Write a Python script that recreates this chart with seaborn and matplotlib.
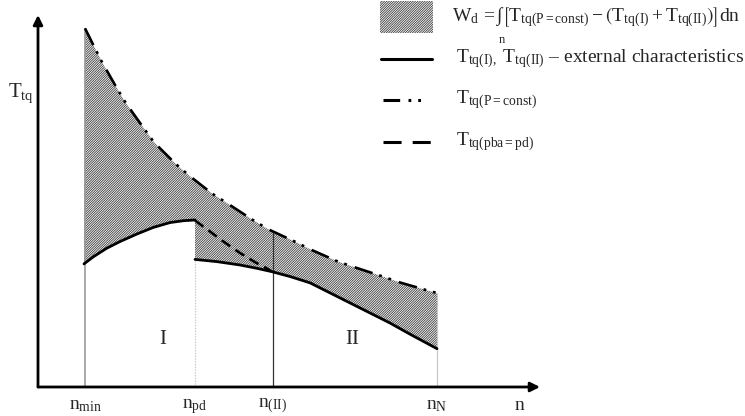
import numpy as np
import pandas as pd
import seaborn as sns
import matplotlib
matplotlib.use("Agg")
import matplotlib.pyplot as plt
from matplotlib.lines import Line2D
from matplotlib.patches import Rectangle

# ---------------- data (arbitrary units) ----------------
# torque at constant power
n_const = [9.40, 11.06, 12.86, 15.6, 17.6, 20.94, 23.2, 27.4, 30.26, 34.74, 37.86,
           42.74, 46.06, 51.4, 54.74, 60.06, 63.6, 69.06, 72.54, 78.06, 79.8]
t_const = [96.42, 91.94, 87.18, 80.73, 76.26, 69.97, 65.78, 60.13, 56.80, 52.07, 49.38,
           45.08, 42.39, 39.06, 36.83, 33.68, 32.07, 29.65, 28.04, 25.89, 25.27]
# external characteristic, stage I
n_I = [9.2, 11.06, 13.74, 16.4, 19.74, 23.06, 26.4, 29.06, 31.4]
t_I = [33.1, 35.0, 37.3, 39.1, 41.1, 42.9, 44.2, 44.7, 44.9]
# external characteristic, stage II
n_II = [31.4, 35.8, 40.4, 43.8, 46.8, 50.4, 54.4, 58.4, 62.4, 66.4, 70.4, 74.4, 79.8]
t_II = [34.3, 33.7, 32.8, 31.9, 31.0, 29.7, 28.0, 25.3, 22.6, 19.9, 17.2, 14.2, 10.3]
# torque at p_ba = p_d
n_pd_curve = [31.4, 34.0, 36.8, 40.4, 43.6, 45.6, 46.6]
t_pd_curve = [44.76, 42.2, 39.38, 36.02, 33.41, 31.99, 31.18]

tick_pos = [9.4, 31.4, 47.0, 79.8, 96.4]
tick_labels = [r"$n_{min}$", r"$n_{pd}$", r"$n_{(II)}$", r"$n_{N}$", r"$n$"]
region_labels = ["I", "II"]
region_pos = [(25.0, 12.9), (62.8, 12.9)]

# ---------------- style ----------------
sns.set_theme(style="white")
plt.rcParams["font.family"] = ["Liberation Serif", "DejaVu Serif"]
plt.rcParams["mathtext.fontset"] = "custom"
plt.rcParams["mathtext.rm"] = "Liberation Serif"
plt.rcParams["mathtext.it"] = "Liberation Serif:italic"
plt.rcParams["mathtext.default"] = "rm"
plt.rcParams["mathtext.fallback"] = "stix"
plt.rcParams["lines.scale_dashes"] = False
plt.rcParams["hatch.linewidth"] = 0.6

W, H = 745, 416
fig = plt.figure(figsize=(W / 100, H / 100), dpi=100)
ax = fig.add_axes([38 / W, 29 / H, (540 - 38) / W, (387 - 15) / H])
ax.set_xlim(0, 100.4)
ax.set_ylim(0, 100)

def fx(px):
    return px / W

def fy(py):
    return 1 - py / H

# hatched region
poly_x = n_const + n_II[::-1] + n_I[::-1]
poly_y = t_const + t_II[::-1] + t_I[::-1]
ax.fill(poly_x, poly_y, facecolor="white", edgecolor="#3a3a3a",
        hatch="/" * 14, linewidth=0, zorder=1)

# vertical guide lines
ax.vlines(n_const[0], 0, t_const[0], color="#9a9a9a", lw=1.2, zorder=2)
ax.vlines(n_II[0], 0, t_II[0], color="#c8c8c8", lw=0.9, linestyles=(0, (1, 1)), zorder=2)
ax.vlines(tick_pos[2], 0, float(np.interp(tick_pos[2], n_const, t_const)),
          color="#333333", lw=0.9, zorder=2)
ax.vlines(n_const[-1], 0, t_const[-1], color="#c8c8c8", lw=0.9, zorder=2)

dashdot = (0, (13.5, 5.0, 2.0, 5.0, 2.0, 6.0))
dashed = (0, (7.5, 4.5))

sns.lineplot(x=n_const, y=t_const, ax=ax, color="black", lw=1.9, linestyle=dashdot, zorder=3)
sns.lineplot(x=n_I, y=t_I, ax=ax, color="black", lw=2.0, zorder=3)
sns.lineplot(x=n_II, y=t_II, ax=ax, color="black", lw=2.0, zorder=3)
sns.lineplot(x=n_pd_curve, y=t_pd_curve, ax=ax, color="black", lw=1.9, linestyle=dashed, zorder=3)

for lab, (xx, yy) in zip(region_labels, region_pos):
    ax.text(xx, yy, lab, ha="center", va="center", fontsize=15)

# axes
for s in ax.spines.values():
    s.set_visible(False)
ax.annotate("", xy=(0, 1), xytext=(0, 0), xycoords="axes fraction",
            arrowprops=dict(arrowstyle="-|>", lw=2, color="black",
                            mutation_scale=14, shrinkA=0, shrinkB=0))
ax.annotate("", xy=(1, 0), xytext=(0, 0), xycoords="axes fraction",
            arrowprops=dict(arrowstyle="-|>", lw=2, color="black",
                            mutation_scale=14, shrinkA=0, shrinkB=0))
ax.set_xticks(tick_pos)
ax.set_xticklabels(tick_labels, fontsize=14)
ax.set_yticks([])
ax.tick_params(axis="x", length=0, pad=7)
ax.set_xlabel("")
ax.set_ylabel("")
fig.text(fx(8), fy(93), r"$T_{tq}$", fontsize=15, ha="left", va="center")

# legend (manual)
fig.add_artist(Rectangle((fx(380), fy(33)), fx(433) - fx(380), fy(1) - fy(33),
                         transform=fig.transFigure, facecolor="white",
                         edgecolor="#3a3a3a", hatch="/" * 14, linewidth=0))
fig.text(fx(452), fy(17),
         r"$W_d\,=\int\left[T_{tq(P=const)}-\left(T_{tq(I)}+T_{tq(II)}\right)\right]dn$",
         fontsize=14, ha="left", va="center")
fig.text(fx(499), fy(40), "n", fontsize=9, ha="left", va="center")

fig.add_artist(Line2D([fx(381), fx(432)], [fy(59), fy(59)], transform=fig.transFigure,
                      color="black", lw=2.2))
fig.text(fx(456), fy(59), r"$T_{tq(I),}\ T_{tq(II)}$ – external characteristics",
         fontsize=14, ha="left", va="center")

fig.add_artist(Line2D([fx(383), fx(432)], [fy(100), fy(100)], transform=fig.transFigure,
                      color="black", lw=2.2, linestyle=(0, (12, 6, 2.0, 5.0, 2.0, 20))))
fig.text(fx(456), fy(100), r"$T_{tq(P=const)}$", fontsize=14, ha="left", va="center")

fig.add_artist(Line2D([fx(383), fx(432)], [fy(142), fy(142)], transform=fig.transFigure,
                      color="black", lw=2.2, linestyle=(0, (13, 8))))
fig.text(fx(456), fy(142), r"$T_{tq(pba=pd)}$", fontsize=14, ha="left", va="center")

fig.savefig("out.png", dpi=100)
